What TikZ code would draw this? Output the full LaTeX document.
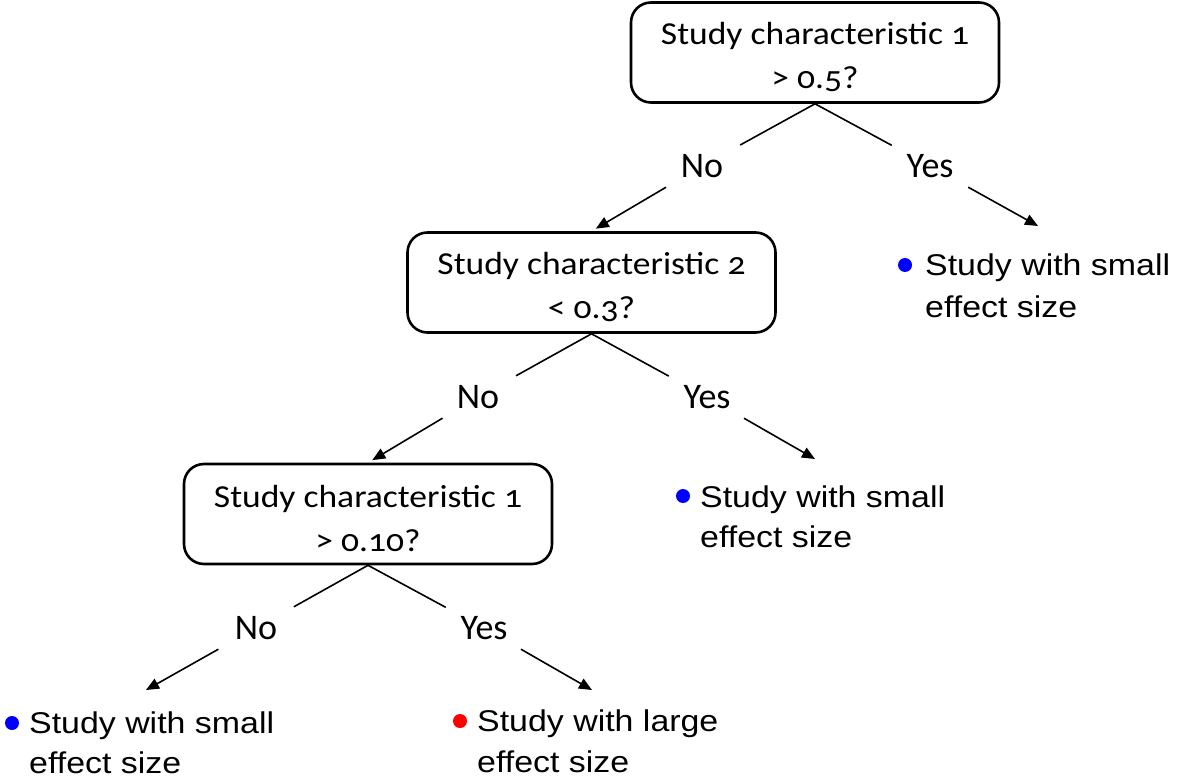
\documentclass[tikz,border=0pt]{standalone}
\usepackage{fontspec}
\setmainfont{Carlito}
\newfontfamily\boxfont[Numbers=OldStyle,FakeStretch=1.11]{Carlito}
\newfontfamily\leaffont[FakeStretch=1.13]{Liberation Sans}
\usetikzlibrary{arrows.meta}
\newcommand{\topstrut}{\rule{0pt}{31pt}}
\begin{document}
\begin{tikzpicture}[x=1pt,y=-1pt,
 decision/.style={draw, line width=2.6pt, rounded corners=20pt, minimum width=368pt, minimum height=100pt, align=center, inner sep=0pt, font=\boxfont\fontsize{32}{44}\selectfont},
 answer/.style={minimum width=76pt, minimum height=42pt, inner sep=0pt, font=\fontsize{36}{40}\selectfont},
 leafline/.style={anchor=base west, inner sep=0pt, font=\leaffont\fontsize{30}{36}\selectfont},
 dot/.style={circle, inner sep=0pt, minimum size=14pt},
 edge/.style={line width=1.6pt},
 arr/.style={line width=1.6pt, -{Triangle[length=13pt,width=11pt]}}
]
\useasboundingbox (0,0) rectangle (1185,783);

\node[decision] (b1) at (815,52.5) {\topstrut Study characteristic 1\\> 0.5?};
\node[decision] (b2) at (591.5,282.5) {\topstrut Study characteristic 2\\< 0.3?};
\node[decision] (b3) at (368,514) {\topstrut Study characteristic 1\\> 0.10?};

\node[answer] (n1) at (702,166) {No};
\node[answer] (y1) at (930,166) {Yes};
\node[answer] (n2) at (478,397) {No};
\node[answer] (y2) at (707,397) {Yes};
\node[answer] (n3) at (256,628) {No};
\node[answer] (y3) at (484,628) {Yes};

\coordinate (e1) at (1038,226);
\coordinate (e2) at (815,459);
\coordinate (e3) at (146,690);
\coordinate (e4) at (592,690);

\draw[edge] (b1.south) -- (n1);
\draw[arr, shorten >=5pt] (n1) -- (b2.north);
\draw[edge] (b1.south) -- (y1);
\draw[arr] (y1) -- (e1);
\draw[edge] (b2.south) -- (n2);
\draw[arr, shorten >=5pt] (n2) -- (b3.north);
\draw[edge] (b2.south) -- (y2);
\draw[arr] (y2) -- (e2);
\draw[edge] (b3.south) -- (n3);
\draw[arr] (n3) -- (e3);
\draw[edge] (b3.south) -- (y3);
\draw[arr] (y3) -- (e4);

\node[dot, fill=blue] (d1) at (905,265) {};
\node[leafline] (l1a) at (925,276) {Study with small};
\node[leafline] (l1b) at (925,317) {effect size};

\node[dot, fill=blue] (d2) at (683,496) {};
\node[leafline] (l2a) at (700,507) {Study with small};
\node[leafline] (l2b) at (700,547) {effect size};

\node[dot, fill=blue] (d3) at (12,723) {};
\node[leafline] (l3a) at (29,733) {Study with small};
\node[leafline] (l3b) at (29,773) {effect size};

\node[dot, fill=red] (d4) at (460,721) {};
\node[leafline] (l4a) at (477,731) {Study with large};
\node[leafline] (l4b) at (477,772) {effect size};
\end{tikzpicture}
\end{document}
